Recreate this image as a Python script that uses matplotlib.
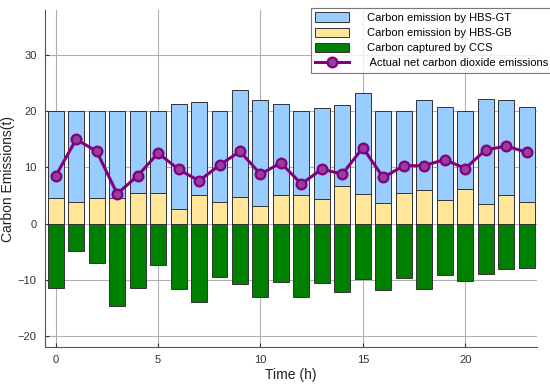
import numpy as np
import matplotlib
matplotlib.use("Agg")
import matplotlib.pyplot as plt

plt.rcParams["font.family"] = ["Liberation Sans", "DejaVu Sans"]

hours = np.arange(24)
gb = [4.6, 3.8, 4.6, 4.6, 5.5, 5.4, 2.6, 5.1, 3.9, 4.7, 3.2, 5.15,
      5.15, 4.4, 6.6, 5.3, 3.6, 5.4, 6.0, 4.2, 6.2, 3.4, 5.0, 3.9]
gt = [15.4, 16.2, 15.4, 15.4, 14.5, 14.6, 18.7, 16.5, 16.1, 19.0, 18.8, 16.05,
      14.85, 16.1, 14.5, 18.0, 16.4, 14.6, 16.0, 16.6, 13.8, 18.8, 17.0, 16.8]
ccs = [-11.5, -4.9, -7.05, -14.7, -11.5, -7.3, -11.6, -13.9, -9.6, -10.8, -13.1, -10.4,
       -13.1, -10.5, -12.2, -9.8, -11.8, -9.7, -11.6, -9.2, -10.2, -9.0, -8.1, -7.9]
net = [8.5, 15.0, 12.85, 5.3, 8.5, 12.55, 9.65, 7.6, 10.4, 12.85, 8.8, 10.8,
       7.05, 9.7, 8.8, 13.5, 8.2, 10.3, 10.3, 11.4, 9.8, 13.1, 13.8, 12.7]

fig = plt.figure(figsize=(5.5, 3.9), dpi=100)
ax = fig.add_axes([0.082, 0.110, 0.894, 0.864])

w = 0.78
b_gt = ax.bar(hours, gt, w, bottom=gb, color="#99CCFF", edgecolor="#333333", linewidth=0.7,
              label="Carbon emission by HBS-GT", zorder=2)
b_gb = ax.bar(hours, gb, w, color="#FFE699", edgecolor="#333333", linewidth=0.7,
              label="Carbon emission by HBS-GB", zorder=2)
b_ccs = ax.bar(hours, ccs, w, color="#008000", edgecolor="#333333", linewidth=0.7,
               label="Carbon captured by CCS", zorder=2)
ln, = ax.plot(hours, net, color="#800080", linewidth=2.2, marker="o", markersize=7,
              markerfacecolor="#9a3c9a", markeredgecolor="#800080", markeredgewidth=1.6,
              label=" Actual net carbon dioxide emissions", zorder=3)

ax.set_xlim(-0.52, 23.5)
ax.set_ylim(-22, 38)
ax.set_xticks([0, 5, 10, 15, 20])
ax.set_yticks([-20, -10, 0, 10, 20, 30])
ax.set_yticklabels(["\u221220", "\u221210", "0", "10", "20", "30"])
ax.grid(True, color="#b0b0b0", linewidth=0.8, zorder=0)
ax.set_axisbelow(True)
for s in ["top", "right"]:
    ax.spines[s].set_visible(False)
for s in ["left", "bottom"]:
    ax.spines[s].set_color("#555555")
    ax.spines[s].set_linewidth(0.8)
ax.tick_params(direction="in", length=3, labelsize=8, colors="#333333", pad=6)
ax.set_xlabel("Time (h)", fontsize=10, color="#222222", labelpad=2)
ax.set_ylabel("Carbon Emissions(t)", fontsize=10, color="#222222", labelpad=2)

leg = ax.legend(handles=[b_gt, b_gb, b_ccs, ln],
                loc="upper left", bbox_to_anchor=(311 / 550, 1 - 8 / 390),
                bbox_transform=fig.transFigure, fontsize=8, frameon=True,
                fancybox=False, edgecolor="#555555", handlelength=3.0,
                handleheight=0.9, handletextpad=1.6, borderpad=0.4,
                labelspacing=0.42, borderaxespad=0)
leg.get_frame().set_linewidth(0.8)

fig.savefig("out.png", dpi=100)
